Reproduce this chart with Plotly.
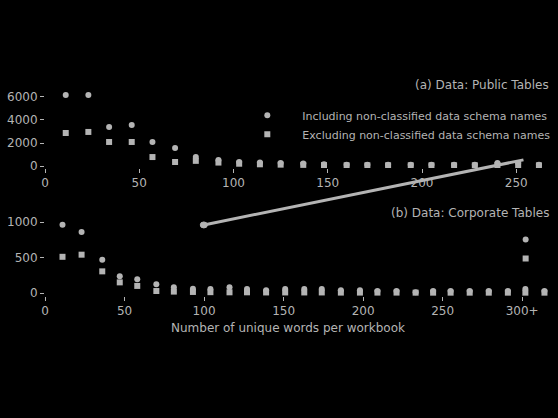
import plotly.graph_objects as go
from plotly.subplots import make_subplots

# ---- data ----
top_x = [11, 23, 34, 46, 57, 69, 80, 92, 103, 114, 125, 137, 148, 160, 171, 182, 194, 205, 217, 228, 240, 251, 262]
top_incl = [6170, 6170, 3390, 3570, 2090, 1570, 780, 520, 350, 300, 260, 230, 150, 100, 100, 100, 100, 100, 100, 100, 260, 260, 100]
top_excl = [2870, 2960, 2090, 2090, 780, 350, 450, 300, 200, 150, 120, 100, 80, 60, 60, 60, 60, 60, 60, 60, 80, 80, 60]

bot_x = [11, 23, 36, 47, 58, 70, 81, 93, 104, 116, 127, 139, 151, 163, 174, 186, 198, 209, 221, 233, 244, 255, 267, 279, 291, 302, 314]
bot_incl = [960, 860, 470, 236, 195, 125, 83, 60, 55, 83, 55, 40, 55, 55, 55, 40, 40, 30, 30, 10, 30, 30, 30, 30, 30, 55, 30]
bot_excl = [510, 540, 305, 150, 100, 28, 20, 15, 12, 10, 10, 8, 8, 8, 8, 6, 6, 6, 6, 5, 5, 5, 5, 5, 5, 5, 5]

series_names = ["Including non-classified data schema names",
                "Excluding non-classified data schema names"]
top_title = "(a) Data: Public Tables"
bot_title = "(b) Data: Corporate Tables"
x_title = "Number of unique words per workbook"

top_xticks = [0, 50, 100, 150, 200, 250]
top_yticks = [0, 2000, 4000, 6000]
bot_xticks = [0, 50, 100, 150, 200, 250, 300]
bot_xticktext = ["0", "50", "100", "150", "200", "250", "300+"]
bot_yticks = [0, 500, 1000]

FG = "#b4b4b4"
FONT = "DejaVu Sans"

fig = make_subplots(rows=2, cols=1, vertical_spacing=0.1)

fig.add_trace(go.Scatter(x=top_x, y=top_incl, mode="markers", name=series_names[0],
                         marker=dict(symbol="circle", size=6, color=FG), legend="legend"), row=1, col=1)
fig.add_trace(go.Scatter(x=top_x, y=top_excl, mode="markers", name=series_names[1],
                         marker=dict(symbol="square", size=6, color=FG), legend="legend"), row=1, col=1)
fig.add_trace(go.Scatter(x=bot_x, y=bot_incl, mode="markers", name=" ",
                         marker=dict(symbol="circle", size=6, color=FG), legend="legend2"), row=2, col=1)
fig.add_trace(go.Scatter(x=bot_x, y=bot_excl, mode="markers", name="  ",
                         marker=dict(symbol="square", size=6, color=FG), legend="legend2"), row=2, col=1)

axis_common = dict(showgrid=False, zeroline=False, showline=False, ticks="outside",
                   ticklen=4, tickcolor=FG, tickfont=dict(size=12, color=FG, family=FONT))

fig.update_layout(
    width=558, height=418,
    paper_bgcolor="black", plot_bgcolor="black",
    margin=dict(l=45, r=0, t=82, b=122),
    font=dict(family=FONT, color=FG, size=11),
    xaxis=dict(domain=[0, 1], range=[0, 270], tickvals=top_xticks, **axis_common),
    yaxis=dict(domain=[0.598, 1.0], range=[-174, 7300], tickvals=top_yticks, **axis_common),
    xaxis2=dict(domain=[0, 1], range=[0, 320], tickvals=bot_xticks, ticktext=bot_xticktext, **axis_common),
    yaxis2=dict(domain=[0, 0.495], range=[-42, 1450], tickvals=bot_yticks, **axis_common),
    legend=dict(x=0.368, y=0.912, xanchor="left", yanchor="top", bgcolor="rgba(0,0,0,0)",
                font=dict(size=11, color=FG, family=FONT), tracegroupgap=0, itemwidth=60),
    legend2=dict(x=0.905, y=0.332, xanchor="left", yanchor="top", bgcolor="rgba(0,0,0,0)",
                 font=dict(size=11, color=FG, family=FONT), orientation="v"),
)

fig.add_annotation(text=top_title, xref="paper", yref="paper", x=0.994, y=0.986,
                   xanchor="right", yanchor="middle", showarrow=False,
                   font=dict(size=12, color=FG, family=FONT))
fig.add_annotation(text=bot_title, xref="paper", yref="paper", x=0.994, y=0.388,
                   xanchor="right", yanchor="middle", showarrow=False,
                   font=dict(size=12, color=FG, family=FONT))
fig.add_annotation(text=x_title, xref="paper", yref="paper", x=0.478, y=-0.15,
                   xanchor="center", yanchor="middle", showarrow=False,
                   font=dict(size=12, color=FG, family=FONT))

# diagonal connector line
fig.add_shape(type="line", xref="paper", yref="paper", x0=0.312, y0=0.332, x1=0.940, y1=0.636,
              line=dict(color=FG, width=3))
fig.add_shape(type="circle", xref="paper", yref="paper", x0=0.305, y0=0.318, x1=0.319, y1=0.346,
              line=dict(color=FG, width=1), fillcolor=FG)

fig.write_html("out.html", config={"displayModeBar": False},
               post_script="document.body.style.margin='0';document.body.style.background='black';"
                           "document.documentElement.style.background='black';")
